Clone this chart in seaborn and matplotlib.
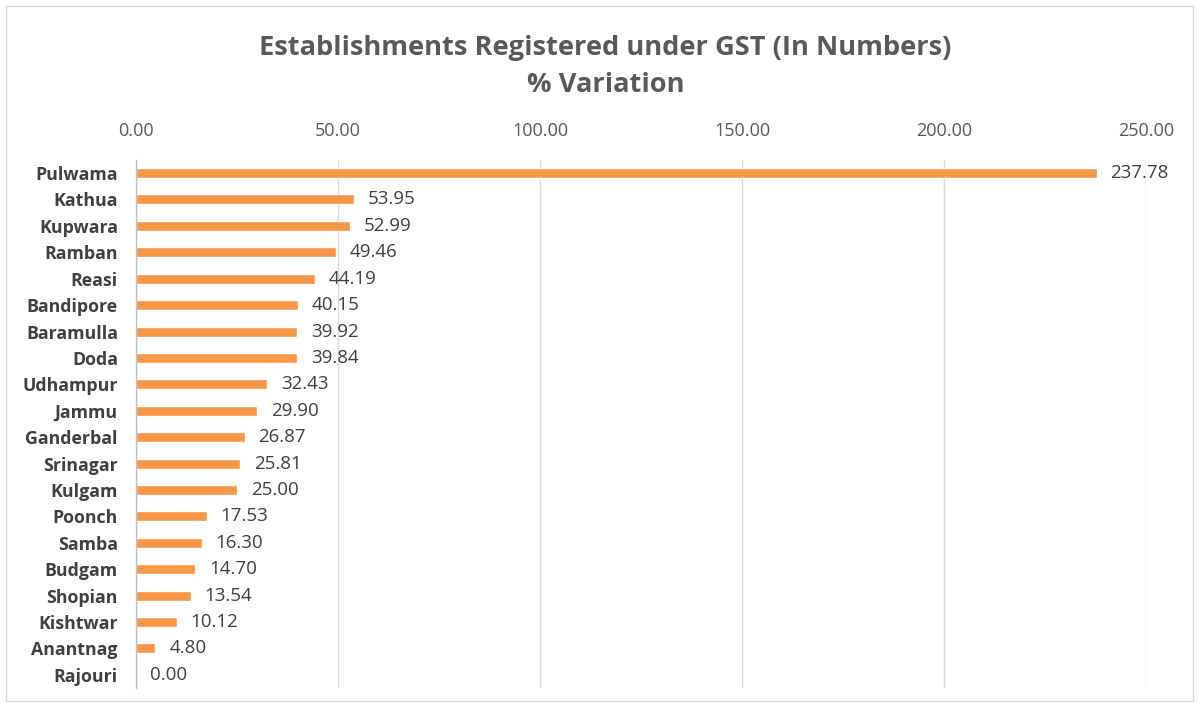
import matplotlib
matplotlib.use("Agg")
import matplotlib.pyplot as plt
import seaborn as sns
import pandas as pd

districts = ["Pulwama", "Kathua", "Kupwara", "Ramban", "Reasi", "Bandipore", "Baramulla",
             "Doda", "Udhampur", "Jammu", "Ganderbal", "Srinagar", "Kulgam", "Poonch",
             "Samba", "Budgam", "Shopian", "Kishtwar", "Anantnag", "Rajouri"]
variation = [237.78, 53.95, 52.99, 49.46, 44.19, 40.15, 39.92, 39.84, 32.43, 29.90,
             26.87, 25.81, 25.00, 17.53, 16.30, 14.70, 13.54, 10.12, 4.80, 0.00]
x_ticks = [0, 50, 100, 150, 200, 250]

df = pd.DataFrame({"District": districts, "Variation": variation})

sns.set_theme(style="white")
plt.rcParams['font.family'] = ['Open Sans', 'DejaVu Sans']

fig = plt.figure(figsize=(11.99, 7.08), dpi=100)
ax = fig.add_axes([0.1134, 0.0282, 0.8424, 0.746])

sns.barplot(data=df, x="Variation", y="District", orient="h", color="#F79646",
            saturation=1, width=0.38, ax=ax)

ax.set_xlim(0, 250)
ax.set_xticks(x_ticks)
ax.set_xticklabels([f"{t:.2f}" for t in x_ticks], fontsize=13, color="#595959")
ax.xaxis.tick_top()
ax.tick_params(axis="x", length=0, pad=14)
ax.tick_params(axis="y", length=0, pad=13)
for lbl in ax.get_yticklabels():
    lbl.set_fontweight("bold")
    lbl.set_fontsize(12.8)
    lbl.set_color("#404040")
ax.set_xlabel("")
ax.set_ylabel("")
ax.grid(axis="x", color="#D9D9D9", linewidth=1)
ax.set_axisbelow(True)
for s in ["top", "right", "bottom"]:
    ax.spines[s].set_visible(False)
ax.spines["left"].set_color("#BFBFBF")
ax.spines["left"].set_linewidth(1)

for c in ax.containers:
    ax.bar_label(c, labels=[f"{v:.2f}" for v in variation], padding=10,
                 fontsize=13.5, color="#404040")

fig.text(0.505, 0.906, "Establishments Registered under GST (In Numbers)\n% Variation",
         ha="center", va="center", fontsize=19.6, fontweight="bold", color="#595959",
         linespacing=1.55)

border = plt.Rectangle((0.005, 0.01), 0.99, 0.982, transform=fig.transFigure,
                       fill=False, edgecolor="#D9D9D9", linewidth=1)
fig.patches.append(border)

fig.savefig("out.png", dpi=100)
